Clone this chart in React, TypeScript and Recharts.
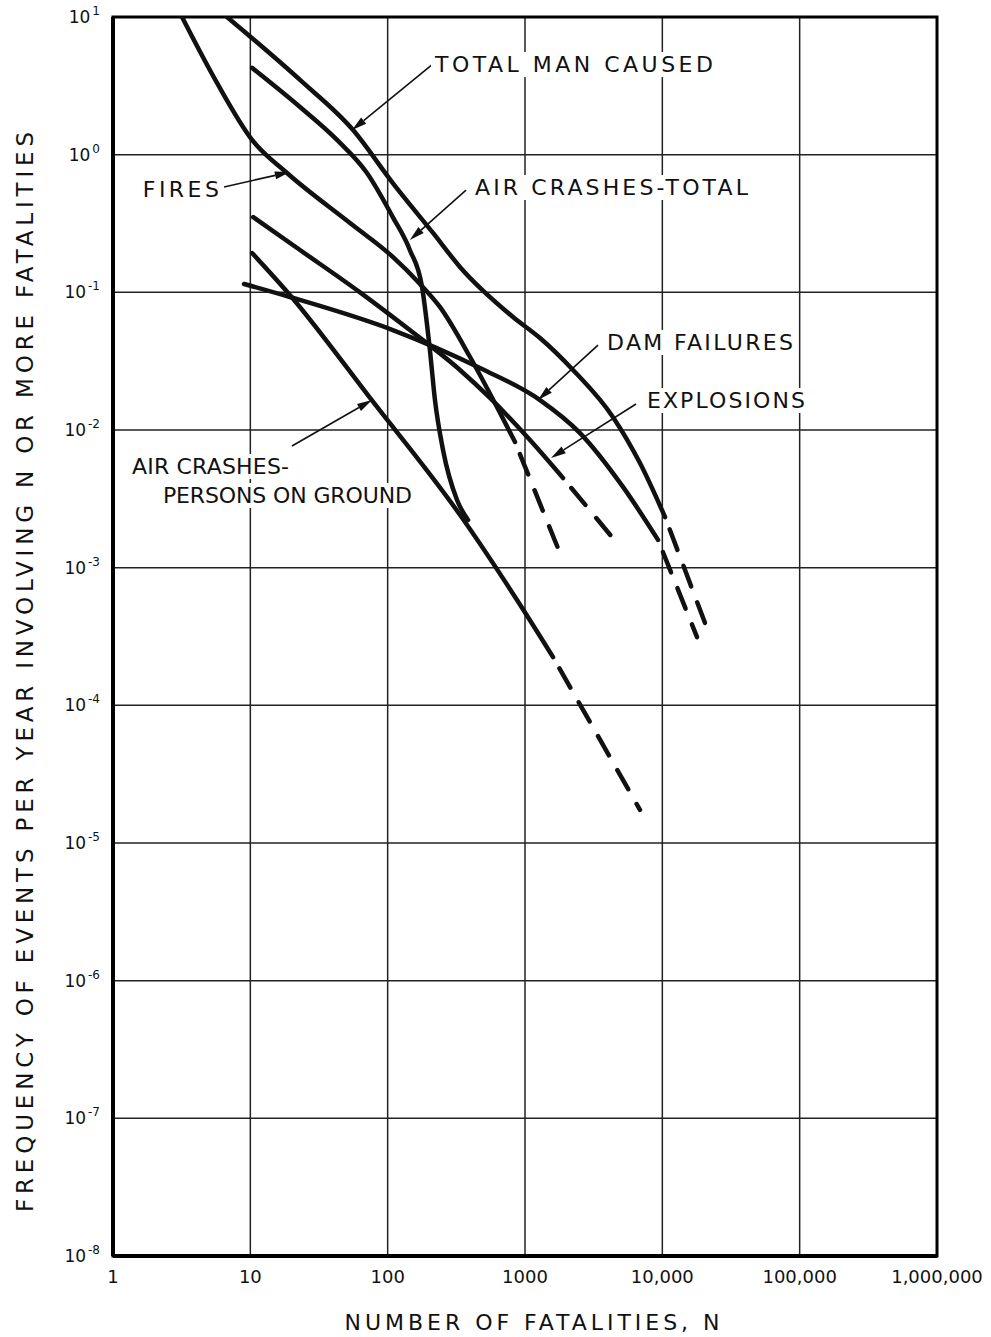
import React from "react";
import {
  LineChart,
  Line,
  XAxis,
  YAxis,
  CartesianGrid,
  ReferenceArea,
  ReferenceLine,
  ReferenceDot,
} from "recharts";

// ---- data: [N, frequency] pairs ----
const totalManCaused = [
  [6.76, 10], [23, 3.49], [56, 1.51], [109, 0.622], [214, 0.27], [336, 0.153],
  [818, 0.0662], [1286, 0.0466], [2237, 0.0273], [4375, 0.0124], [6875, 0.00575], [10470, 0.00233],
];
const totalManCausedExt = [[10470, 0.00233], [20460, 0.000396]];

const fires = [
  [3.18, 10], [5.72, 3.32], [10.3, 1.28], [18.5, 0.736], [53.2, 0.319], [109, 0.181],
  [172, 0.115], [240, 0.0783], [398, 0.0339], [625, 0.0147], [846, 0.00818],
];
const firesExt = [[846, 0.00818], [1861, 0.00117]];

const airCrashesTotal = [
  [10.3, 4.27], [23, 2.22], [42.8, 1.28], [70.7, 0.736], [109, 0.352], [145, 0.203],
  [178, 0.109], [203, 0.0381], [221, 0.0165], [253, 0.00716], [320, 0.0031], [385, 0.00222],
];

const explosions = [
  [10.5, 0.352], [23, 0.203], [62.9, 0.1], [145, 0.0532], [336, 0.0273], [556, 0.0171],
  [1087, 0.00845], [1892, 0.00448],
];
const explosionsExt = [[1892, 0.00448], [4677, 0.00151]];

const damFailures = [
  [9.0, 0.115], [19.4, 0.0925], [109, 0.0532], [470, 0.0282], [1286, 0.0165], [2516, 0.0095],
  [5171, 0.00386], [9306, 0.00159],
];
const damFailuresExt = [[9306, 0.00159], [17890, 0.000313]];

const personsOnGround = [
  [10.3, 0.193], [19.4, 0.0957], [74.4, 0.0171], [336, 0.00242], [875, 0.000582], [1600, 0.000224],
];
const personsOnGroundExt = [[1600, 0.000224], [6875, 0.0000174]];

const xTicks = [1, 10, 100, 1000, 10000, 100000, 1000000];
const xTickLabels = ["1", "10", "100", "1000", "10,000", "100,000", "1,000,000"];
const yTicks = [1e-8, 1e-7, 1e-6, 1e-5, 1e-4, 1e-3, 1e-2, 1e-1, 1, 10];

// annotation labels (text start, baseline) and arrows in data units
const labelText = [
  "TOTAL  MAN CAUSED", "FIRES", "AIR CRASHES-TOTAL", "DAM FAILURES",
  "EXPLOSIONS", "AIR CRASHES-", "PERSONS ON GROUND",
];
const labelN = [221, 1.65, 432, 3956, 7730, 1.375, 2.31];
const labelF = [3.98, 0.493, 0.509, 0.0381, 0.01445, 0.00479, 0.00295];
const arrowFrom = [[214, 4.56], [6.43, 0.582], [372, 0.553], [3400, 0.0414], [6430, 0.01545], [20.1, 0.00766]];
const arrowTo = [[55, 1.51], [19.4, 0.748], [145, 0.24], [1244, 0.0165], [1546, 0.00627], [76.9, 0.0165]];

// ---- styling ----
const FONT = "'DejaVu Sans', 'Liberation Sans', sans-serif";
const INK = "#111";
const LABEL_LEN: Record<string, number> = {
  "TOTAL  MAN CAUSED": 278,
  FIRES: 76,
  "AIR CRASHES-TOTAL": 273,
  "DAM FAILURES": 186,
  EXPLOSIONS: 158,
  "AIR CRASHES-": 157,
  "PERSONS ON GROUND": 249,
};

const toPts = (rows: number[][]) => rows.map(([n, f]) => ({ n, f }));

const XTick = (props: any) => {
  const { x, y, payload } = props;
  const i = xTicks.indexOf(payload.value);
  return (
    <text x={x} y={y + 27} textAnchor="middle" fontSize={18} fontFamily={FONT} fill={INK}>
      {xTickLabels[i]}
    </text>
  );
};

const YTick = (props: any) => {
  const { x, y, payload } = props;
  const e = Math.round(Math.log10(payload.value));
  return (
    <text x={x} y={y + 6} textAnchor="end" fontSize={17} fontFamily={FONT} fill={INK}>
      10
      <tspan dx={2} dy={-8} fontSize={12}>
        {e < 0 ? `-${-e}` : `${e}`}
      </tspan>
    </text>
  );
};

const Arrow = (p: any) => {
  const { x1, y1, x2, y2 } = p;
  const a = Math.atan2(y2 - y1, x2 - x1);
  const len = 15;
  const w = 4;
  const bx = x2 - len * Math.cos(a);
  const by = y2 - len * Math.sin(a);
  const nx = -Math.sin(a) * w;
  const ny = Math.cos(a) * w;
  return (
    <g>
      <line x1={x1} y1={y1} x2={bx} y2={by} stroke={INK} strokeWidth={1.6} />
      <polygon points={`${x2},${y2} ${bx + nx},${by + ny} ${bx - nx},${by - ny}`} fill={INK} />
    </g>
  );
};

const makeLabel = (t: string) => (p: any) => {
  const len = LABEL_LEN[t];
  return (
    <g>
      <rect x={p.cx - 4} y={p.cy - 20} width={len + 8} height={25} fill="#fff" />
      <text
        x={p.cx}
        y={p.cy}
        fontSize={22}
        fontFamily={FONT}
        fill={INK}
        textLength={len}
        lengthAdjust="spacing"
      >
        {t}
      </text>
    </g>
  );
};

const solidSeries = [totalManCaused, fires, airCrashesTotal, explosions, damFailures, personsOnGround];
const dashedSeries = [totalManCausedExt, firesExt, explosionsExt, damFailuresExt, personsOnGroundExt];

export default function App() {
  return (
    <div style={{ position: "absolute", left: 0, top: 0, width: 991, height: 1337, background: "#fff" }}>
      <LineChart width={991} height={1337} margin={{ top: 17, right: 54, bottom: 51, left: 53 }}>
        <CartesianGrid stroke="#222" strokeWidth={1.5} />
        <XAxis
          dataKey="n"
          type="number"
          scale="log"
          domain={[1, 1000000]}
          ticks={xTicks}
          interval={0}
          allowDataOverflow
          tick={XTick}
          tickLine={false}
          tickSize={0}
          tickMargin={0}
          height={30}
          axisLine={{ stroke: "#000", strokeWidth: 4 }}
        />
        <YAxis
          type="number"
          scale="log"
          domain={[1e-8, 10]}
          ticks={yTicks}
          interval={0}
          allowDataOverflow
          tick={YTick}
          tickLine={false}
          tickSize={0}
          tickMargin={13}
          width={60}
          axisLine={{ stroke: "#000", strokeWidth: 4 }}
        />
        <ReferenceArea
          x1={1}
          x2={1000000}
          y1={1e-8}
          y2={10}
          fill="none"
          fillOpacity={0}
          stroke="#000"
          strokeWidth={3}
          ifOverflow="visible"
        />
        {labelText.map((t, i) => (
          <ReferenceDot key={t} x={labelN[i]} y={labelF[i]} r={0} shape={makeLabel(t)} />
        ))}
        {arrowFrom.map((fr, i) => (
          <ReferenceLine
            key={`arrow-${i}`}
            segment={[
              { x: fr[0], y: fr[1] },
              { x: arrowTo[i][0], y: arrowTo[i][1] },
            ]}
            shape={Arrow}
          />
        ))}
        {solidSeries.map((s, i) => (
          <Line
            key={`s-${i}`}
            id={`s-${i}`}
            data={toPts(s)}
            dataKey="f"
            type="monotone"
            stroke={INK}
            strokeWidth={4.5}
            strokeLinecap="round"
            strokeLinejoin="round"
            dot={false}
            activeDot={false}
            isAnimationActive={false}
          />
        ))}
        {dashedSeries.map((s, i) => (
          <Line
            key={`d-${i}`}
            id={`d-${i}`}
            data={toPts(s)}
            dataKey="f"
            type="linear"
            stroke={INK}
            strokeWidth={4.5}
            strokeLinecap="round"
            strokeDasharray="22 17"
            strokeDashoffset={26}
            dot={false}
            activeDot={false}
            isAnimationActive={false}
          />
        ))}
      </LineChart>
      <svg
        width={991}
        height={1337}
        style={{ position: "absolute", left: 0, top: 0, pointerEvents: "none" }}
      >
        <text
          transform="translate(33,672) rotate(-90)"
          textAnchor="middle"
          fontSize={23}
          fontFamily={FONT}
          fill={INK}
          textLength={1080}
          lengthAdjust="spacing"
        >
          FREQUENCY OF EVENTS PER YEAR INVOLVING N OR MORE FATALITIES
        </text>
        <text
          x={532}
          y={1330}
          textAnchor="middle"
          fontSize={22}
          fontFamily={FONT}
          fill={INK}
          textLength={375}
          lengthAdjust="spacing"
        >
          NUMBER OF FATALITIES, N
        </text>
      </svg>
    </div>
  );
}
